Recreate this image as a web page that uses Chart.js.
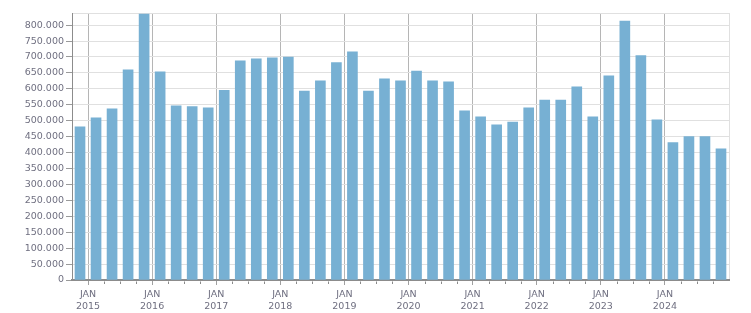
<!DOCTYPE html>
<html>
<head>
<meta charset="utf-8">
<script src="https://cdn.jsdelivr.net/npm/chart.js@4.4.1/dist/chart.umd.min.js"></script>
<style>
	html, body { margin: 0; padding: 0; background: #fff; }
	#wrap { width: 751px; height: 313px; }
</style>
</head>
<body>
<div id="wrap"><canvas id="chart" width="751" height="313"></canvas></div>
<script>
// quarters, Q4 2014 .. Q4 2024
const quarters = [
	'Q4 2014',
	'Q1 2015', 'Q2 2015', 'Q3 2015', 'Q4 2015',
	'Q1 2016', 'Q2 2016', 'Q3 2016', 'Q4 2016',
	'Q1 2017', 'Q2 2017', 'Q3 2017', 'Q4 2017',
	'Q1 2018', 'Q2 2018', 'Q3 2018', 'Q4 2018',
	'Q1 2019', 'Q2 2019', 'Q3 2019', 'Q4 2019',
	'Q1 2020', 'Q2 2020', 'Q3 2020', 'Q4 2020',
	'Q1 2021', 'Q2 2021', 'Q3 2021', 'Q4 2021',
	'Q1 2022', 'Q2 2022', 'Q3 2022', 'Q4 2022',
	'Q1 2023', 'Q2 2023', 'Q3 2023', 'Q4 2023',
	'Q1 2024', 'Q2 2024', 'Q3 2024', 'Q4 2024',
];
const values = [
	481000,
	509000, 537000, 660000, 835000,
	653000, 547000, 544000, 540000,
	595000, 688000, 694000, 697000,
	700000, 593000, 625000, 682000,
	716000, 593000, 631000, 625000,
	656000, 625000, 622000, 531000,
	512000, 487000, 496000, 540000,
	565000, 565000, 606000, 512000,
	641000, 813000, 704000, 503000,
	431000, 450000, 450000, 412000,
];
const monthLabel = 'JAN';
const yearLabels = ['2015', '2016', '2017', '2018', '2019', '2020', '2021', '2022', '2023', '2024'];
const yTicks = [
	0, 50000, 100000, 150000, 200000, 250000, 300000, 350000, 400000,
	450000, 500000, 550000, 600000, 650000, 700000, 750000, 800000,
];
const yMax = 838000;

const textColor = '#6f6f80';
const barColor = '#77b0d3';

function isJan(v) {
	return v % 4 === 1 && v < quarters.length;
}

function formatThousands(v) {
	return String(v).replace(/\B(?=(\d{3})+(?!\d))/g, '.');
}

// short marks for the quarters between the JAN ticks
const minorTicks = {
	id: 'minorTicks',
	afterDraw(chart) {
		const xs = chart.scales.x;
		const ctx = chart.ctx;
		const bottom = chart.chartArea.bottom;
		ctx.save();
		ctx.strokeStyle = '#8a8a8a';
		ctx.lineWidth = 1;
		for (const t of xs.ticks) {
			if (t.value <= 0 || t.value >= quarters.length || isJan(t.value)) continue;
			const px = Math.round(xs.getPixelForValue(t.value)) + 0.5;
			ctx.beginPath();
			ctx.moveTo(px, bottom + 1.5);
			ctx.lineTo(px, bottom + 4);
			ctx.stroke();
		}
		ctx.restore();
	},
};

new Chart(document.getElementById('chart'), {
	type: 'bar',
	data: {
		datasets: [
			{
				label: 'values',
				data: values.map((v, i) => ({ x: i + 0.5, y: v })),
				backgroundColor: barColor,
				barThickness: 10,
			},
		],
	},
	options: {
		responsive: false,
		animation: false,
		layout: { padding: { left: 0, right: 22, top: 13, bottom: 0 } },
		plugins: {
			legend: { display: false },
			tooltip: { enabled: false },
		},
		scales: {
			x: {
				type: 'linear',
				min: 0,
				max: quarters.length,
				offset: false,
				afterFit: (axis) => { axis.height = 33; },
				grid: {
					offset: false,
					color: (c) => (c.tick && isJan(c.tick.value) ? '#b5b5b5' : c.tick && c.tick.value === quarters.length ? '#e0e0e0' : 'transparent'),
					tickColor: (c) => (c.tick && isJan(c.tick.value) ? '#a0a0a0' : 'transparent'),
					tickLength: 5,
				},
				border: { color: '#8c8c8c', width: 2 },
				ticks: {
					stepSize: 1,
					autoSkip: false,
					maxRotation: 0,
					padding: 4,
					color: textColor,
					font: { family: 'DejaVu Sans', size: 9.5, lineHeight: 1.25 },
					callback: (v) => (isJan(v) ? [monthLabel, yearLabels[(v - 1) / 4]] : ''),
				},
			},
			y: {
				min: 0,
				max: yMax,
				afterFit: (axis) => { axis.width = 72; },
				afterBuildTicks: (axis) => {
					axis.ticks = yTicks.concat([yMax]).map((v) => ({ value: v }));
				},
				grid: {
					color: '#e0e0e0',
					tickColor: (c) => (c.tick && c.tick.value === yMax ? 'transparent' : '#9a9a9a'),
					tickLength: 6,
				},
				border: { color: '#8c8c8c', width: 1 },
				ticks: {
					padding: 2,
					color: textColor,
					font: { family: 'DejaVu Sans', size: 9.5 },
					callback: (v) => (v === yMax ? '' : formatThousands(v)),
				},
			},
		},
	},
	plugins: [minorTicks],
});
</script>
</body>
</html>
